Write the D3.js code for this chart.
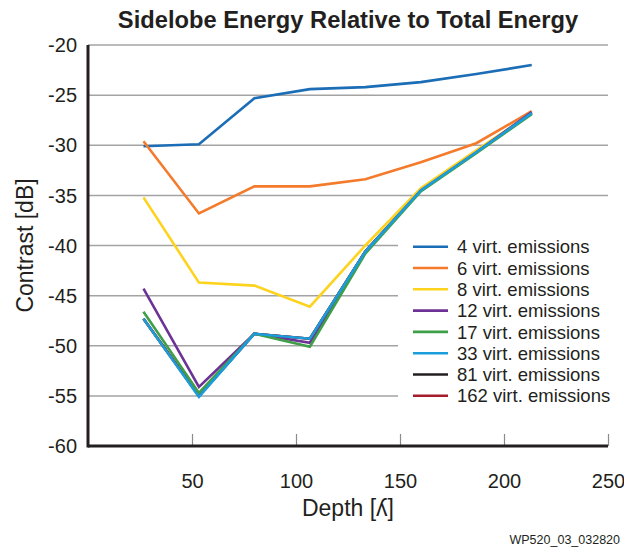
<!DOCTYPE html>
<html>
<head>
<meta charset="utf-8">
<script src="https://cdn.jsdelivr.net/npm/d3@7"></script>
<style>
  body { margin: 0; background: #fff; }
  text { font-family: "Liberation Sans", Arial, Helvetica, sans-serif; fill: #231f20; }
</style>
</head>
<body>
<div id="chart"></div>
<script>
// data
let depths = [26.67, 53.33, 80, 106.67, 133.33, 160, 186.67, 213.33];
let seriesNames = ["4 virt. emissions", "6 virt. emissions", "8 virt. emissions", "12 virt. emissions",
                   "17 virt. emissions", "33 virt. emissions", "81 virt. emissions", "162 virt. emissions"];
let v4   = [-30.1, -29.9, -25.3, -24.4, -24.2, -23.7, -22.9, -22.0];
let v6   = [-29.6, -36.8, -34.1, -34.1, -33.4, -31.7, -29.8, -26.6];
let v8   = [-35.2, -43.7, -44.0, -46.1, -40.0, -34.3, -30.5, -26.8];
let v12  = [-44.3, -54.1, -48.8, -49.7, -40.6, -34.5, -30.7, -26.7];
let v17  = [-46.6, -54.7, -48.8, -50.1, -40.8, -34.6, -30.8, -26.9];
let v33  = [-47.3, -55.1, -48.8, -49.3, -40.6, -34.5, -30.7, -26.8];
let v81  = [-47.3, -55.0, -48.8, -49.3, -40.6, -34.5, -30.7, -26.8];
let v162 = [-47.3, -55.0, -48.8, -49.3, -40.6, -34.5, -30.7, -26.8];
let xTicks = [50, 100, 150, 200, 250];
let yTicks = [-20, -25, -30, -35, -40, -45, -50, -55, -60];

let colors = ["#1b6db5", "#f47a2c", "#fdd31d", "#6d3296", "#3f9f48", "#1b9ddb", "#231f20", "#a51d2d"];
let values = [v4, v6, v8, v12, v17, v33, v81, v162];
let drawOrder = [6, 7, 0, 1, 2, 3, 4, 5];

let svgWidth = 624;
let svgHeight = 550;
let margin = { top: 45, right: 16, bottom: 104, left: 88 };
let width = svgWidth - margin.left - margin.right;
let height = svgHeight - margin.top - margin.bottom;

let svg = d3.select("#chart")
  .append("svg")
  .attr("width", svgWidth)
  .attr("height", svgHeight);

let chartGroup = svg.append("g")
  .attr("transform", `translate(${margin.left}, ${margin.top})`);

let x = d3.scaleLinear().domain([0, 250]).range([0, width]);
let y = d3.scaleLinear().domain([-60, -20]).range([height, 0]);

// gridlines
chartGroup.append("g")
  .selectAll("line")
  .data(yTicks.filter(d => d > -60))
  .enter()
  .append("line")
  .attr("x1", 0)
  .attr("x2", width)
  .attr("y1", d => y(d))
  .attr("y2", d => y(d))
  .attr("stroke", "#a3a3a3")
  .attr("stroke-width", 1.5);

// y tick labels
chartGroup.append("g")
  .selectAll("text")
  .data(yTicks)
  .enter()
  .append("text")
  .attr("x", -11)
  .attr("y", d => y(d))
  .attr("dy", "0.36em")
  .attr("text-anchor", "end")
  .attr("font-size", "20px")
  .text(d => d);

// x axis: small gray ticks inside plot, labels below
let bottomAxis = d3.axisBottom(x).tickValues(xTicks).tickSize(0).tickPadding(28);
let xAxisG = chartGroup.append("g")
  .attr("transform", `translate(0, ${height})`)
  .call(bottomAxis);
xAxisG.select(".domain").remove();
xAxisG.selectAll("text")
  .attr("font-size", "20px")
  .attr("font-family", "Liberation Sans, Arial, sans-serif")
  .attr("fill", "#231f20");
xAxisG.selectAll(".tick")
  .append("line")
  .attr("y1", 0)
  .attr("y2", -12)
  .attr("stroke", "#8a8a8a")
  .attr("stroke-width", 1.2);

// series lines
let line = d3.line()
  .x((d, i) => x(depths[i]))
  .y(d => y(d));

chartGroup.append("g")
  .selectAll("path")
  .data(drawOrder)
  .enter()
  .append("path")
  .attr("d", k => line(values[k]))
  .attr("fill", "none")
  .attr("stroke", k => colors[k])
  .attr("stroke-width", 2.6)
  .attr("stroke-linejoin", "miter");

// axis lines
chartGroup.append("line")
  .attr("x1", 0).attr("x2", width)
  .attr("y1", height).attr("y2", height)
  .attr("stroke", "#231f20")
  .attr("stroke-width", 3);
chartGroup.append("line")
  .attr("x1", 0).attr("x2", 0)
  .attr("y1", 0).attr("y2", height + 1.5)
  .attr("stroke", "#231f20")
  .attr("stroke-width", 3);

// legend
let legend = svg.append("g").attr("transform", "translate(398, 236)");
legend.append("rect")
  .attr("width", 214)
  .attr("height", 172)
  .attr("fill", "#fff");
let rows = legend.selectAll("g.row")
  .data(seriesNames)
  .enter()
  .append("g")
  .attr("class", "row")
  .attr("transform", (d, i) => `translate(0, ${10.7 + i * 21.3})`);
rows.append("line")
  .attr("x1", 15).attr("x2", 50)
  .attr("stroke", (d, i) => colors[i])
  .attr("stroke-width", 2.6);
rows.append("text")
  .attr("x", 59)
  .attr("dy", "0.36em")
  .attr("font-size", "18.5px")
  .text(d => d);

// titles
svg.append("text")
  .attr("x", margin.left + width / 2)
  .attr("y", 28)
  .attr("text-anchor", "middle")
  .attr("font-size", "23.7px")
  .attr("font-weight", "bold")
  .text("Sidelobe Energy Relative to Total Energy");

svg.append("text")
  .attr("transform", `translate(33, ${margin.top + height / 2}) rotate(-90)`)
  .attr("text-anchor", "middle")
  .attr("font-size", "23px")
  .text("Contrast [dB]");

svg.append("text")
  .attr("x", margin.left + width / 2)
  .attr("y", 516)
  .attr("text-anchor", "middle")
  .attr("font-size", "23px")
  .text("Depth [ʎ]");

svg.append("text")
  .attr("x", 620)
  .attr("y", 544)
  .attr("text-anchor", "end")
  .attr("font-size", "12.5px")
  .text("WP520_03_032820");
</script>
</body>
</html>
